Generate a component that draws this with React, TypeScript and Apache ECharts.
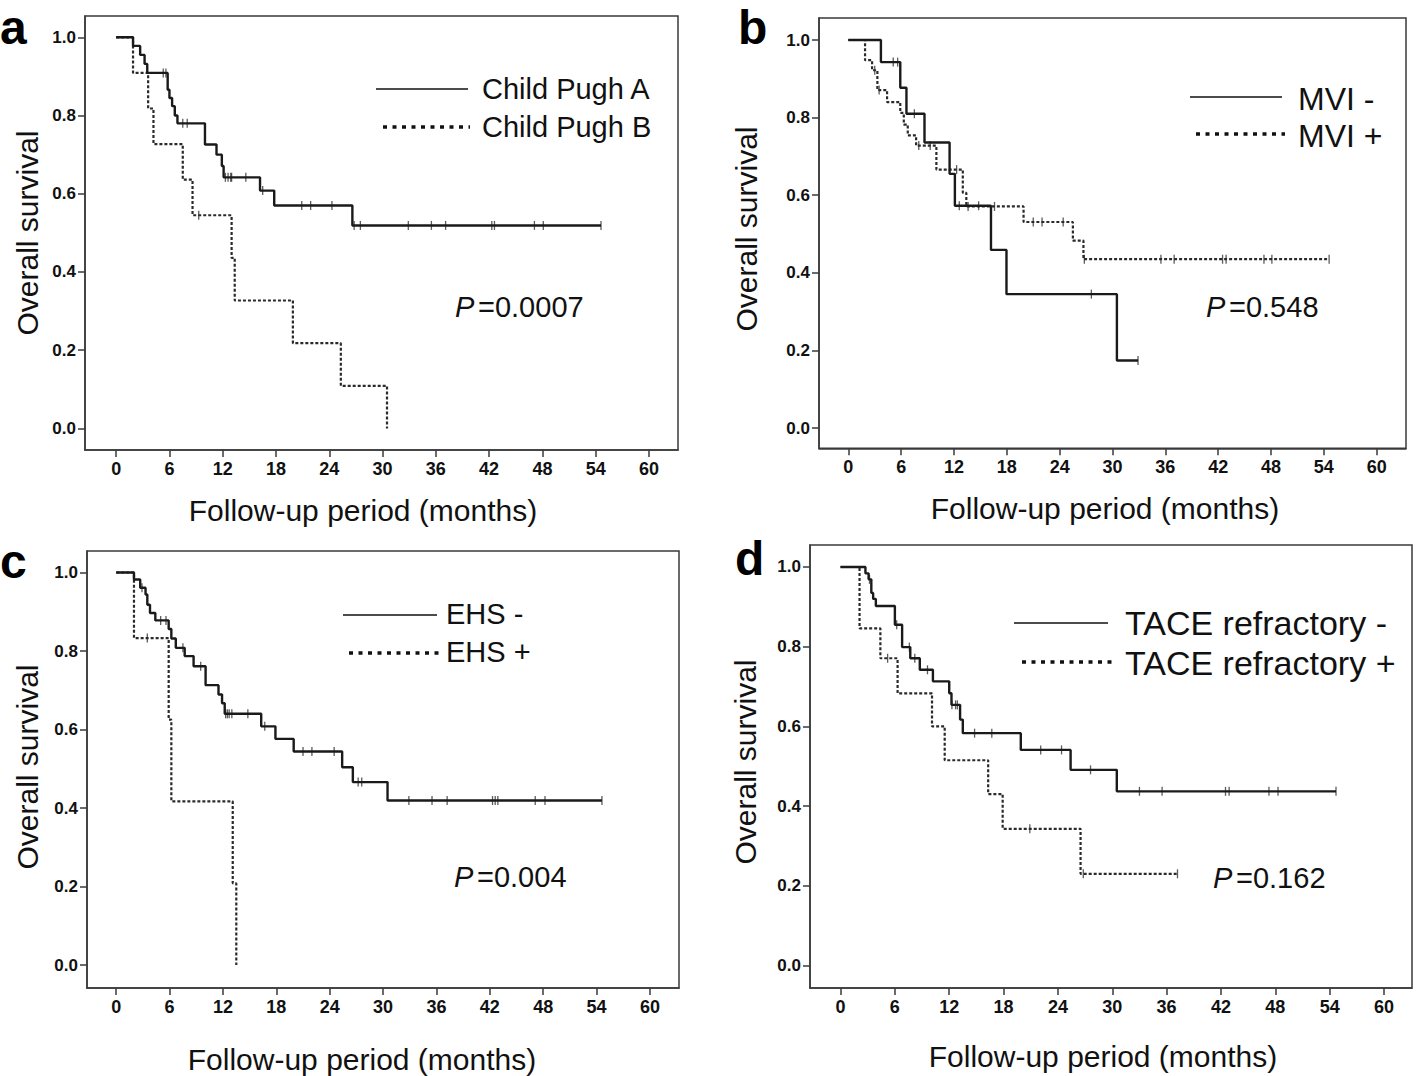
import React, { useEffect, useRef } from "react";
import * as echarts from "echarts";

// ---------- tick labels ----------
const X_TICKS = [0, 6, 12, 18, 24, 30, 36, 42, 48, 54, 60];
const Y_TICKS = [0, 0.2, 0.4, 0.6, 0.8, 1.0];

// ---------- panel a : Child Pugh ----------
const A_SOLID_T = [0, 1.9, 2.7, 3.2, 3.5, 5.8, 6.0, 6.3, 6.6, 6.9, 10.0, 11.3, 11.9, 12.1, 16.2, 17.8, 26.6, 54.6];
const A_SOLID_S = [1.0, 0.978, 0.955, 0.932, 0.909, 0.866, 0.845, 0.824, 0.8, 0.78, 0.726, 0.7, 0.671, 0.642, 0.608, 0.57, 0.519, 0.519];
const A_SOLID_C = [5.3, 5.6, 7.5, 8.0, 12.3, 12.6, 12.9, 13.0, 14.6, 16.5, 20.9, 21.9, 24.3, 26.8, 27.5, 32.9, 35.5, 37.1, 42.3, 42.6, 47.1, 48.1, 54.6];
const A_DOT_T = [0, 1.9, 3.6, 4.2, 7.5, 8.6, 13.0, 13.35, 19.9, 25.3, 30.5];
const A_DOT_S = [1.0, 0.909, 0.818, 0.727, 0.636, 0.545, 0.436, 0.327, 0.218, 0.109, 0.0];
const A_DOT_C = [9.3];

// ---------- panel b : MVI ----------
const B_SOLID_T = [0, 3.7, 5.9, 6.6, 8.65, 11.5, 12.1, 16.2, 17.96, 30.5, 32.9];
const B_SOLID_S = [1.0, 0.943, 0.877, 0.81, 0.736, 0.655, 0.573, 0.459, 0.345, 0.174, 0.174];
const B_SOLID_C = [5.1, 5.6, 7.5, 12.6, 14.8, 27.6, 32.9];
const B_DOT_T = [0, 1.9, 2.7, 3.3, 4.4, 5.9, 6.3, 6.75, 7.7, 10.0, 13.0, 13.4, 19.9, 25.5, 26.7, 54.6];
const B_DOT_S = [1.0, 0.948, 0.922, 0.871, 0.84, 0.812, 0.782, 0.754, 0.728, 0.666, 0.606, 0.571, 0.531, 0.483, 0.435, 0.435];
const B_DOT_C = [3.0, 3.5, 8.0, 9.3, 12.3, 13.6, 16.6, 21.0, 22.0, 24.4, 26.8, 35.5, 37.0, 42.5, 42.9, 47.2, 48.1, 54.6];

// ---------- panel c : EHS ----------
const C_SOLID_T = [0, 2.0, 2.7, 3.3, 3.5, 3.8, 4.4, 5.9, 6.2, 6.7, 7.7, 8.7, 10.05, 11.5, 11.9, 12.2, 16.3, 17.9, 19.95, 25.4, 26.6, 30.5, 54.6];
const C_SOLID_S = [1.0, 0.982, 0.961, 0.944, 0.918, 0.897, 0.878, 0.856, 0.832, 0.808, 0.787, 0.761, 0.713, 0.689, 0.667, 0.64, 0.608, 0.576, 0.544, 0.504, 0.466, 0.419, 0.419];
const C_SOLID_C = [2.9, 5.0, 5.6, 7.5, 9.5, 12.3, 12.5, 12.7, 13.0, 14.8, 16.7, 21.0, 22.0, 24.5, 27.2, 27.6, 32.9, 35.5, 37.2, 42.3, 42.6, 42.9, 47.1, 48.2, 54.6];
const C_DOT_T = [0, 2.0, 5.9, 6.2, 13.1, 13.5];
const C_DOT_S = [1.0, 0.833, 0.625, 0.417, 0.208, 0.0];
const C_DOT_C = [3.5];

// ---------- panel d : TACE refractory ----------
const D_SOLID_T = [0, 2.75, 3.1, 3.4, 3.6, 3.9, 6.0, 6.8, 7.7, 8.75, 10.2, 12.0, 12.25, 13.2, 13.5, 19.9, 25.4, 30.5, 54.7];
const D_SOLID_S = [1.0, 0.984, 0.969, 0.935, 0.92, 0.902, 0.855, 0.799, 0.771, 0.742, 0.713, 0.683, 0.654, 0.617, 0.583, 0.541, 0.491, 0.437, 0.437];
const D_SOLID_C = [3.2, 6.2, 7.6, 8.2, 9.6, 12.3, 12.7, 12.9, 14.8, 16.7, 22.1, 24.4, 27.6, 33.0, 35.5, 42.5, 42.9, 47.3, 48.3, 54.7];
const D_DOT_T = [0, 2.1, 4.4, 6.3, 10.1, 11.5, 16.3, 17.9, 26.5, 37.2];
const D_DOT_S = [1.0, 0.846, 0.771, 0.683, 0.6, 0.515, 0.43, 0.343, 0.23, 0.23];
const D_DOT_C = [5.2, 20.9, 26.8, 37.2];

// ---------- texts ----------
const PANEL_LETTERS = ["a", "b", "c", "d"];
const LEGEND_SOLID = ["Child Pugh A", "MVI -", "EHS -", "TACE refractory -"];
const LEGEND_DOT = ["Child Pugh B", "MVI +", "EHS +", "TACE refractory +"];
const P_VALUES = ["=0.0007", "=0.548", "=0.004", "=0.162"];
const Y_TITLE = "Overall survival";
const X_TITLE = "Follow-up period (months)";

const CURVES = [
  { st: A_SOLID_T, ss: A_SOLID_S, sc: A_SOLID_C, dt: A_DOT_T, ds: A_DOT_S, dc: A_DOT_C },
  { st: B_SOLID_T, ss: B_SOLID_S, sc: B_SOLID_C, dt: B_DOT_T, ds: B_DOT_S, dc: B_DOT_C },
  { st: C_SOLID_T, ss: C_SOLID_S, sc: C_SOLID_C, dt: C_DOT_T, ds: C_DOT_S, dc: C_DOT_C },
  { st: D_SOLID_T, ss: D_SOLID_S, sc: D_SOLID_C, dt: D_DOT_T, ds: D_DOT_S, dc: D_DOT_C },
];

// ---------- layout (positions only) ----------
const LAYOUT = [
  {
    grid: { left: 85, top: 16, width: 593, height: 434 }, x: [-3.51, 63.27], y: [-0.0552, 1.0545],
    letter: [0, 27], yTitle: [27, 233], xTitle: [363, 510], legSize: 29,
    leg1: [376, 468, 89, 482, 89], leg2: [383, 470, 127, 482, 127], p: [455, 307],
  },
  {
    grid: { left: 819, top: 18, width: 587, height: 430.3 }, x: [-3.33, 63.33], y: [-0.0523, 1.0567],
    letter: [738, 27], yTitle: [746, 229], xTitle: [1105, 508], legSize: 32,
    leg1: [1190, 1282, 97, 1298, 99], leg2: [1196, 1285, 134, 1298, 136], p: [1206, 307],
  },
  {
    grid: { left: 87, top: 551, width: 592, height: 437 }, x: [-3.28, 63.26], y: [-0.0586, 1.0548],
    letter: [0, 561], yTitle: [27, 767], xTitle: [362, 1059], legSize: 29,
    leg1: [343, 437, 615, 446, 614], leg2: [349, 440, 653, 446, 652], p: [454, 877],
  },
  {
    grid: { left: 810, top: 545, width: 602, height: 443 }, x: [-3.37, 63.09], y: [-0.0565, 1.0552],
    letter: [735, 558], yTitle: [745, 762], xTitle: [1103, 1056], legSize: 34,
    leg1: [1014, 1108, 623, 1125, 623], leg2: [1022, 1113, 662, 1125, 663], p: [1213, 878],
  },
];

const FONT = '"Liberation Sans", Arial, Helvetica, sans-serif';
const TICK_FONT = '"Liberation Sans Narrow", "Arial Narrow", "Liberation Sans", Arial, sans-serif';
const INK = "#1a1a1a";

function survAt(times: number[], surv: number[], t: number): number {
  let s = surv[0];
  for (let i = 0; i < times.length; i++) if (times[i] <= t) s = surv[i];
  return s;
}

function buildOption() {
  const grid: any[] = [];
  const xAxis: any[] = [];
  const yAxis: any[] = [];
  const series: any[] = [];
  const graphic: any[] = [];

  LAYOUT.forEach((L, i) => {
    grid.push({ ...L.grid, show: true, borderColor: "#3a3a3a", borderWidth: 1.5, backgroundColor: "transparent" });
    xAxis.push({
      type: "value", gridIndex: i, min: L.x[0], max: L.x[1],
      axisLine: { show: true, onZero: false, lineStyle: { color: "#3a3a3a", width: 1.5 } },
      axisTick: { show: true, customValues: X_TICKS, length: 7, lineStyle: { color: "#3a3a3a", width: 1.5 } },
      axisLabel: {
        customValues: X_TICKS, margin: 10, color: "#111", fontSize: 18, fontWeight: "bold", fontFamily: TICK_FONT,
      },
      splitLine: { show: false },
    });
    yAxis.push({
      type: "value", gridIndex: i, min: L.y[0], max: L.y[1],
      axisLine: { show: true, onZero: false, lineStyle: { color: "#3a3a3a", width: 1.5 } },
      axisTick: { show: true, customValues: Y_TICKS, length: 7, lineStyle: { color: "#3a3a3a", width: 1.5 } },
      axisLabel: {
        customValues: Y_TICKS, margin: 9, color: "#111", fontSize: 17, fontWeight: "bold", fontFamily: TICK_FONT,
        formatter: (v: number) => v.toFixed(1),
      },
      splitLine: { show: false },
    });

    const C = CURVES[i];
    series.push({
      type: "line", xAxisIndex: i, yAxisIndex: i, step: "end", showSymbol: false, silent: true,
      data: C.dt.map((t, k) => [t, C.ds[k]]),
      lineStyle: { color: "#2a2a2a", width: 2.2, type: [3, 2] },
    });
    series.push({
      type: "line", xAxisIndex: i, yAxisIndex: i, step: "end", showSymbol: false, silent: true,
      data: C.st.map((t, k) => [t, C.ss[k]]),
      lineStyle: { color: INK, width: 2.4, type: "solid" },
    });
    series.push({
      type: "scatter", xAxisIndex: i, yAxisIndex: i, silent: true, symbol: "rect", symbolSize: [1.3, 9],
      itemStyle: { color: "#333" },
      data: C.dc.map((t) => [t, survAt(C.dt, C.ds, t)]),
    });
    series.push({
      type: "scatter", xAxisIndex: i, yAxisIndex: i, silent: true, symbol: "rect", symbolSize: [1.3, 9],
      itemStyle: { color: "#333" },
      data: C.sc.map((t) => [t, survAt(C.st, C.ss, t)]),
    });

    // panel letter
    graphic.push({
      type: "text", silent: true,
      style: { text: PANEL_LETTERS[i], x: L.letter[0], y: L.letter[1], font: `bold 48px ${FONT}`, fill: "#000", textAlign: "left", textVerticalAlign: "middle" },
    });
    // y title
    graphic.push({
      type: "text", silent: true, x: L.yTitle[0], y: L.yTitle[1], rotation: Math.PI / 2,
      style: { text: Y_TITLE, x: 0, y: 0, font: `30px ${FONT}`, fill: "#111", textAlign: "center", textVerticalAlign: "middle" },
    });
    // x title
    graphic.push({
      type: "text", silent: true,
      style: { text: X_TITLE, x: L.xTitle[0], y: L.xTitle[1], font: `30px ${FONT}`, fill: "#111", textAlign: "center", textVerticalAlign: "middle" },
    });
    // legend
    graphic.push({
      type: "line", silent: true,
      shape: { x1: L.leg1[0], y1: L.leg1[2], x2: L.leg1[1], y2: L.leg1[2] },
      style: { stroke: "#111", lineWidth: 1.5 },
    });
    graphic.push({
      type: "text", silent: true,
      style: { text: LEGEND_SOLID[i], x: L.leg1[3], y: L.leg1[4], font: `${L.legSize}px ${FONT}`, fill: "#111", textAlign: "left", textVerticalAlign: "middle" },
    });
    graphic.push({
      type: "line", silent: true,
      shape: { x1: L.leg2[0], y1: L.leg2[2], x2: L.leg2[1], y2: L.leg2[2] },
      style: { stroke: "#111", lineWidth: 3.5, lineDash: [4, 5.5] },
    });
    graphic.push({
      type: "text", silent: true,
      style: { text: LEGEND_DOT[i], x: L.leg2[3], y: L.leg2[4], font: `${L.legSize}px ${FONT}`, fill: "#111", textAlign: "left", textVerticalAlign: "middle" },
    });
    // P value
    graphic.push({
      type: "text", silent: true,
      style: { text: "P", x: L.p[0], y: L.p[1], font: `italic 29px ${FONT}`, fill: "#111", textAlign: "left", textVerticalAlign: "middle" },
    });
    graphic.push({
      type: "text", silent: true,
      style: { text: P_VALUES[i], x: L.p[0] + 23, y: L.p[1], font: `29px ${FONT}`, fill: "#111", textAlign: "left", textVerticalAlign: "middle" },
    });
  });

  return {
    animation: false,
    backgroundColor: "#ffffff",
    grid, xAxis, yAxis, series, graphic,
  };
}

export default function App() {
  const ref = useRef<HTMLDivElement>(null);
  useEffect(() => {
    if (!ref.current) return;
    const chart = echarts.init(ref.current, undefined, { renderer: "svg" });
    chart.setOption(buildOption() as any);
    return () => chart.dispose();
  }, []);
  return (
    <div
      ref={ref}
      style={{ position: "fixed", left: 0, top: 0, width: 1416, height: 1076, background: "#fff" }}
    />
  );
}
